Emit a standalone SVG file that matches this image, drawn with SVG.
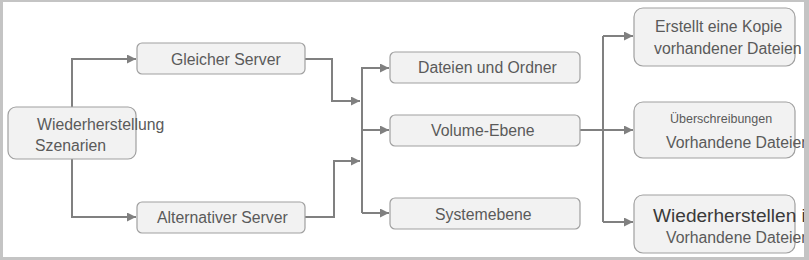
<svg xmlns="http://www.w3.org/2000/svg" width="809" height="260" viewBox="0 0 809 260">
<defs>
<style>
.box{fill:#f2f2f2;stroke:#a0a0a0;stroke-width:1.2}
.t{font-family:"Liberation Sans",Arial,sans-serif;font-size:15.8px;fill:#5a5a5a}
.s{font-size:12.5px}
.b{font-size:19.1px;fill:#3a3a3a}
.c{fill:none;stroke:#808080;stroke-width:2}
</style>
<marker id="ah" viewBox="0 0 10 10" refX="10" refY="5" markerWidth="10" markerHeight="9" markerUnits="userSpaceOnUse" orient="auto">
<path d="M0,0 L10,5 L0,10 Z" fill="#808080"/>
</marker>
</defs>
<rect x="0" y="0" width="809" height="260" fill="#fff"/>
<g id="connectors">
<path class="c" d="M72,107 V59 H136" marker-end="url(#ah)"/>
<path class="c" d="M72,159 V217 H136" marker-end="url(#ah)"/>
<path class="c" d="M305,59 H332 V101 H360" marker-end="url(#ah)"/>
<path class="c" d="M305,217 H334 V161 H360" marker-end="url(#ah)"/>
<path class="c" d="M362,67 V213"/>
<path class="c" d="M362,68 H389" marker-end="url(#ah)"/>
<path class="c" d="M362,130 H389" marker-end="url(#ah)"/>
<path class="c" d="M362,213 H389" marker-end="url(#ah)"/>
<path class="c" d="M580,130 H633" marker-end="url(#ah)"/>
<path class="c" d="M603,36 V222"/>
<path class="c" d="M603,36 H633" marker-end="url(#ah)"/>
<path class="c" d="M603,222 H633" marker-end="url(#ah)"/>
</g>
<g id="n-root">
<rect class="box" x="8" y="107" width="128" height="52" rx="8"/>
<text class="t" x="37" y="130">Wiederherstellung</text>
<text class="t" x="35" y="151">Szenarien</text>
</g>
<g id="n-gleich">
<rect class="box" x="137" y="43" width="168" height="31" rx="5"/>
<text class="t" x="171" y="65">Gleicher Server</text>
</g>
<g id="n-alt">
<rect class="box" x="137" y="202" width="168" height="31" rx="5"/>
<text class="t" x="157" y="223">Alternativer Server</text>
</g>
<g id="n-dateien">
<rect class="box" x="390" y="52" width="190" height="31" rx="5"/>
<text class="t" x="418" y="73">Dateien und Ordner</text>
</g>
<g id="n-volume">
<rect class="box" x="390" y="115" width="190" height="31" rx="5"/>
<text class="t" x="431" y="136">Volume-Ebene</text>
</g>
<g id="n-system">
<rect class="box" x="390" y="198" width="190" height="31" rx="5"/>
<text class="t" x="435" y="220">Systemebene</text>
</g>
<g id="n-kopie">
<rect class="box" x="634" y="8" width="161" height="58" rx="9"/>
<text class="t" x="655" y="32">Erstellt eine Kopie</text>
<text class="t" x="654" y="54">vorhandener Dateien</text>
</g>
<g id="n-ueber">
<rect class="box" x="634" y="102" width="161" height="56" rx="9"/>
<text class="t s" x="670" y="123">Überschreibungen</text>
<text class="t" x="666" y="148">Vorhandene Dateien</text>
</g>
<g id="n-wieder">
<rect class="box" x="634" y="195" width="161" height="58" rx="9"/>
<text class="t b" x="653" y="222">Wiederherstellen i</text>
<text class="t" x="666" y="243">Vorhandene Dateien</text>
</g>
<path id="frame" d="M0,0 H809 V260 H0 Z M3,2 V257 H804 V2 Z" fill="#c4c4c4" fill-rule="evenodd"/>
</svg>
